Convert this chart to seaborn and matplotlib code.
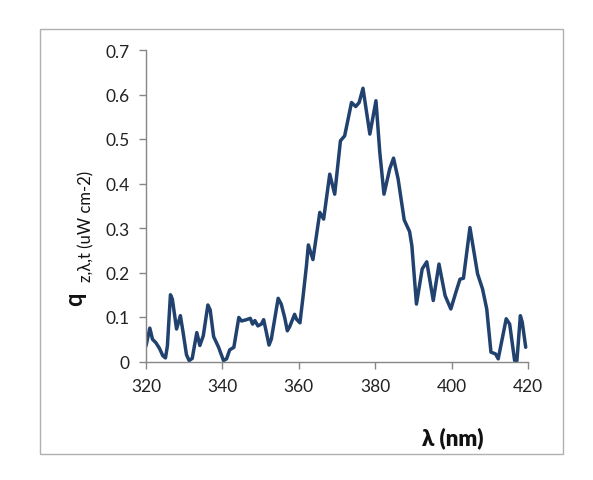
import matplotlib
matplotlib.use("Agg")
import matplotlib.pyplot as plt
import seaborn as sns
import pandas as pd
from matplotlib.patches import Rectangle

wavelength = [320.0, 321.0, 321.7, 322.6, 323.5, 324.4, 325.1, 325.6, 326.4, 326.9,
              328.0, 329.0, 329.7, 330.6, 331.3, 332.1, 333.3, 334.1, 335.0, 336.2,
              336.8, 337.7, 339.0, 339.6, 340.3, 341.1, 341.9, 343.0, 344.3, 345.0,
              346.3, 347.3, 347.9, 348.5, 349.3, 350.2, 350.8, 351.5, 352.2, 352.8,
              354.6, 355.4, 356.3, 357.0, 357.6, 358.9, 359.4, 360.3, 361.1, 362.0,
              362.5, 363.7, 365.5, 366.5, 368.1, 369.4, 370.9, 372.0, 373.8, 374.9,
              375.8, 376.8, 378.6, 380.2, 381.2, 382.3, 383.8, 384.8, 386.0, 387.6,
              389.0, 389.6, 390.8, 392.3, 393.5, 395.2, 396.7, 398.3, 399.8, 401.1,
              402.2, 403.1, 404.8, 406.8, 408.1, 409.2, 410.3, 411.5, 412.2, 414.3,
              415.2, 416.5, 417.1, 418.0, 418.5, 419.4]
q_values = [0.035, 0.075, 0.050, 0.042, 0.030, 0.013, 0.008, 0.035, 0.150, 0.140,
            0.073, 0.103, 0.066, 0.015, 0.002, 0.007, 0.065, 0.036, 0.058, 0.127,
            0.116, 0.056, 0.032, 0.018, 0.002, 0.006, 0.026, 0.032, 0.099, 0.091,
            0.094, 0.097, 0.084, 0.092, 0.080, 0.084, 0.094, 0.066, 0.037, 0.050,
            0.142, 0.129, 0.099, 0.069, 0.078, 0.106, 0.095, 0.087, 0.145, 0.215,
            0.262, 0.229, 0.335, 0.320, 0.421, 0.376, 0.496, 0.507, 0.582, 0.573,
            0.582, 0.614, 0.511, 0.586, 0.470, 0.376, 0.433, 0.457, 0.410, 0.318,
            0.292, 0.260, 0.129, 0.208, 0.224, 0.137, 0.219, 0.148, 0.118, 0.155,
            0.185, 0.187, 0.301, 0.197, 0.163, 0.118, 0.021, 0.017, 0.006, 0.096,
            0.084, 0.002, 0.002, 0.103, 0.088, 0.032]

x_ticks = [320, 340, 360, 380, 400, 420]
y_ticks = [0, 0.1, 0.2, 0.3, 0.4, 0.5, 0.6, 0.7]
y_tick_labels = ["0", "0.1", "0.2", "0.3", "0.4", "0.5", "0.6", "0.7"]

sns.set_style("white")
plt.rcParams['font.family'] = ['Lato', 'DejaVu Sans']

W, H = 593, 481
fig = plt.figure(figsize=(W / 100, H / 100), dpi=100)
fig.patch.set_facecolor("white")

# outer frame
fig.add_artist(Rectangle((40 / W, 1 - 455 / H), (563 - 40) / W, (455 - 30) / H,
                         transform=fig.transFigure, fill=False,
                         edgecolor="#b0b0b0", linewidth=1.0))

ax = fig.add_axes([146 / W, 1 - 362.5 / H, (528 - 146) / W, (362.5 - 51) / H])
df = pd.DataFrame({"wavelength": wavelength, "q": q_values})
sns.lineplot(data=df, x="wavelength", y="q", ax=ax, color="#21426f",
             linewidth=2.5, solid_joinstyle="round", solid_capstyle="round")

ax.set_xlim(320, 420)
ax.set_ylim(0, 0.7)
ax.set_xticks(x_ticks)
ax.set_xticklabels([str(t) for t in x_ticks])
ax.set_yticks(y_ticks)
ax.set_yticklabels(y_tick_labels)
ax.set_xlabel("")
ax.set_ylabel("")

for s in ["top", "right"]:
    ax.spines[s].set_visible(False)
for s in ["left", "bottom"]:
    ax.spines[s].set_color("#868686")
    ax.spines[s].set_linewidth(1.0)

ax.tick_params(axis="both", direction="out", length=5, width=1, color="#868686",
               labelsize=12.5, labelcolor="#222222", left=True, bottom=True)
ax.tick_params(axis="y", pad=7)
ax.tick_params(axis="x", pad=7)
ax.patch.set_alpha(0)

# y label: bold q with subscript text
fig.text(75 / W, 1 - 299 / H, "q", rotation=90, ha="center", va="center",
         fontsize=17, fontweight="bold", color="#111111")
fig.text(86 / W, 1 - 226 / H, "z,λ,t (uW cm-2)", rotation=90, ha="center",
         va="center", fontsize=12, color="#111111")

# x label
fig.text(453 / W, 1 - 438 / H, "λ (nm)", ha="center", va="center",
         fontsize=16, fontweight="heavy", color="#111111")

fig.savefig("out.png", dpi=100, facecolor="white")
